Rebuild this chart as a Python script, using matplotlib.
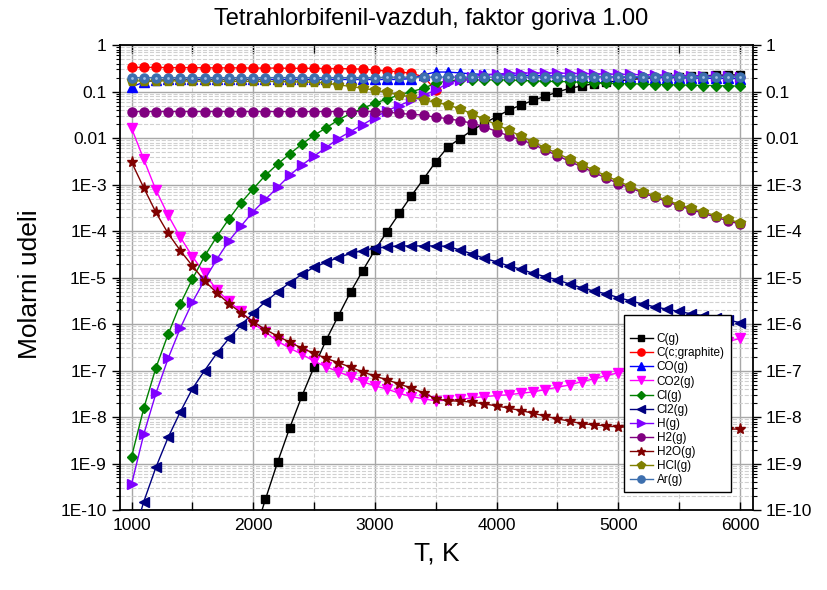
import numpy as np
import matplotlib.pyplot as plt
from matplotlib.ticker import FixedLocator, FuncFormatter, LogLocator, NullFormatter

plt.rcParams['font.family'] = ['Liberation Sans', 'DejaVu Sans']

# temperature, K (every 100 K)
T_K = list(range(1000, 6001, 100))

nan = float('nan')

# log10 of molar fraction (1000 ... 6000 K)
log_Cg = [nan] * 10 + [
    -10.6, -9.77, -8.97, -8.23, -7.55, -6.92, -6.34, -5.82, -5.31, -4.85,
    -4.41, -4.01, -3.62, -3.24, -2.88, -2.51, -2.19, -2.01, -1.83, -1.68,
    -1.54, -1.40, -1.29, -1.19, -1.10, -1.01, -0.93, -0.88, -0.83, -0.80,
    -0.77, -0.74, -0.72, -0.70, -0.69, -0.68, -0.67, -0.66, -0.65, -0.645, -0.64]
log_graphite = [
    -0.48, -0.48, -0.48, -0.485, -0.485, -0.485, -0.49, -0.49, -0.49, -0.49,
    -0.495, -0.495, -0.495, -0.50, -0.50, -0.50, -0.505, -0.505, -0.51, -0.516,
    -0.538, -0.559, -0.574, -0.609, -0.68, -0.97] + [nan] * 25
log_CO = [
    -0.896, -0.80, -0.76, -0.74, -0.74, -0.74, -0.74, -0.74, -0.74, -0.74,
    -0.74, -0.74, -0.74, -0.74, -0.74, -0.74, -0.74, -0.74, -0.74, -0.74,
    -0.74, -0.74, -0.74, -0.72, -0.64, -0.58, -0.58, -0.60, -0.62, -0.63,
    -0.64, -0.645, -0.65, -0.655, -0.66, -0.665, -0.67, -0.675, -0.68, -0.685,
    -0.69, -0.69, -0.695, -0.70, -0.70, -0.705, -0.71, -0.71, -0.715, -0.715, -0.72]
log_CO2 = [
    -1.79, -2.46, -3.12, -3.66, -4.13, -4.55, -4.91, -5.27, -5.51, -5.73,
    -5.99, -6.17, -6.37, -6.52, -6.65, -6.80, -6.92, -7.03, -7.13, -7.24,
    -7.33, -7.40, -7.49, -7.56, -7.61, -7.65, -7.64, -7.62, -7.59, -7.56,
    -7.54, -7.52, -7.49, -7.46, -7.41, -7.36, -7.31, -7.24, -7.18, -7.11,
    -7.05, -6.97, -6.90, -6.82, -6.75, -6.68, -6.60, -6.53, -6.46, -6.38, -6.31]
log_Cl = [
    -8.85, -7.81, -6.94, -6.22, -5.57, -5.03, -4.54, -4.12, -3.74, -3.39,
    -3.09, -2.80, -2.56, -2.34, -2.13, -1.94, -1.78, -1.61, -1.47, -1.36,
    -1.25, -1.16, -1.075, -1.00, -0.93, -0.82, -0.77, -0.75, -0.75, -0.75,
    -0.75, -0.75, -0.76, -0.77, -0.78, -0.78, -0.79, -0.80, -0.81, -0.82,
    -0.83, -0.83, -0.84, -0.85, -0.85, -0.86, -0.86, -0.87, -0.87, -0.88, -0.88]
log_Cl2 = [
    -10.7, -9.82, -9.08, -8.44, -7.89, -7.39, -7.00, -6.63, -6.31, -6.02,
    -5.76, -5.52, -5.31, -5.11, -4.93, -4.78, -4.67, -4.57, -4.48, -4.42,
    -4.37, -4.34, -4.32, -4.32, -4.32, -4.32, -4.33, -4.41, -4.49, -4.59,
    -4.66, -4.75, -4.82, -4.91, -4.98, -5.05, -5.14, -5.22, -5.29, -5.35,
    -5.43, -5.50, -5.57, -5.63, -5.68, -5.73, -5.78, -5.82, -5.86, -5.91, -5.97]
log_H = [
    -9.44, -8.37, -7.49, -6.74, -6.09, -5.53, -5.05, -4.61, -4.21, -3.89,
    -3.58, -3.32, -3.06, -2.80, -2.58, -2.39, -2.20, -2.01, -1.86, -1.71,
    -1.56, -1.41, -1.30, -1.19, -1.08, -0.97, -0.82, -0.75, -0.68, -0.64,
    -0.62, -0.61, -0.60, -0.60, -0.60, -0.60, -0.61, -0.61, -0.62, -0.62,
    -0.63, -0.63, -0.64, -0.64, -0.65, -0.65, -0.66, -0.66, -0.67, -0.67, -0.68]
log_H2 = [
    -1.43, -1.43, -1.43, -1.43, -1.43, -1.43, -1.43, -1.43, -1.43, -1.43,
    -1.43, -1.43, -1.43, -1.43, -1.43, -1.43, -1.43, -1.43, -1.43, -1.43,
    -1.43, -1.44, -1.47, -1.49, -1.505, -1.555, -1.58, -1.63, -1.68, -1.757,
    -1.86, -1.95, -2.04, -2.13, -2.26, -2.38, -2.50, -2.62, -2.74, -2.86,
    -2.98, -3.07, -3.18, -3.27, -3.37, -3.46, -3.54, -3.62, -3.70, -3.78, -3.85]
log_H2O = [
    -2.52, -3.07, -3.60, -4.05, -4.42, -4.75, -5.07, -5.33, -5.56, -5.76,
    -5.95, -6.12, -6.26, -6.39, -6.52, -6.63, -6.74, -6.83, -6.93, -7.03,
    -7.12, -7.20, -7.29, -7.38, -7.48, -7.61, -7.65, -7.66, -7.68, -7.72,
    -7.76, -7.81, -7.86, -7.92, -7.98, -8.04, -8.09, -8.14, -8.17, -8.19,
    -8.21, -8.22, -8.23, -8.24, -8.24, -8.25, -8.25, -8.25, -8.26, -8.26, -8.26]
log_HCl = [
    -0.77, -0.77, -0.77, -0.77, -0.77, -0.775, -0.775, -0.775, -0.78, -0.78,
    -0.78, -0.78, -0.785, -0.79, -0.795, -0.80, -0.82, -0.855, -0.89, -0.93,
    -0.97, -1.02, -1.07, -1.12, -1.18, -1.23, -1.29, -1.37, -1.48, -1.60,
    -1.71, -1.83, -1.96, -2.08, -2.21, -2.33, -2.45, -2.57, -2.69, -2.81,
    -2.93, -3.04, -3.15, -3.24, -3.34, -3.43, -3.51, -3.59, -3.67, -3.75, -3.82]
log_Ar = [
    -0.70, -0.70, -0.70, -0.70, -0.70, -0.70, -0.70, -0.70, -0.70, -0.70,
    -0.70, -0.70, -0.70, -0.70, -0.70, -0.70, -0.70, -0.70, -0.70, -0.70,
    -0.70, -0.69, -0.69, -0.69, -0.69, -0.69, -0.69, -0.69, -0.69, -0.69,
    -0.69, -0.69, -0.69, -0.69, -0.69, -0.69, -0.68, -0.68, -0.68, -0.68,
    -0.68, -0.68, -0.68, -0.68, -0.68, -0.68, -0.68, -0.68, -0.68, -0.68, -0.68]

labels = ['C(g)', 'C(c;graphite)', 'CO(g)', 'CO2(g)', 'Cl(g)', 'Cl2(g)',
          'H(g)', 'H2(g)', 'H2O(g)', 'HCl(g)', 'Ar(g)']
series = [log_Cg, log_graphite, log_CO, log_CO2, log_Cl, log_Cl2,
          log_H, log_H2, log_H2O, log_HCl, log_Ar]
colors = ['#000000', '#FF0000', '#0000FF', '#FF00FF', '#008000', '#000080',
          '#8000FF', '#800080', '#800000', '#808000', '#3D6FAE']
markers = ['s', 'o', '^', 'v', 'D', '<', '>', 'o', '*', 'p', 'o']
msizes = [5.5, 6.5, 6.5, 6.5, 5, 6.5, 6.5, 6.5, 8, 7, 6.5]

fig = plt.figure(figsize=(8.28, 5.9), dpi=100)
ax = fig.add_axes([0.145, 0.1356, 0.764, 0.788])

for i, (lab, vals) in enumerate(zip(labels, series)):
    y = 10.0 ** np.array(vals)
    ax.plot(T_K, y, color=colors[i], marker=markers[i], markersize=msizes[i],
            markeredgecolor=colors[i], linewidth=1, label=lab, zorder=3 + i)
    if lab == 'Ar(g)':
        # little highlight in the middle of the Ar markers
        ax.plot(T_K, y, linestyle='none', marker='o', markersize=2,
                color='#9FC0E6', markeredgewidth=0, zorder=3 + i)

ax.set_yscale('log')
ax.set_xlim(905, 6105)
ax.set_ylim(1e-10, 1)

yt = [10.0 ** k for k in range(-10, 1)]
ylabs = {0: '1', -1: '0.1', -2: '0.01'}


def fmt(v, pos):
    k = int(round(np.log10(v)))
    return ylabs.get(k, f'1E{k}')


ax.yaxis.set_major_locator(FixedLocator(yt))
ax.yaxis.set_major_formatter(FuncFormatter(fmt))
ax.yaxis.set_minor_locator(LogLocator(base=10, subs=np.arange(2, 10), numticks=20))
ax.yaxis.set_minor_formatter(NullFormatter())
ax.set_xticks([1000, 2000, 3000, 4000, 5000, 6000])
ax.set_xticks([1500, 2500, 3500, 4500, 5500], minor=True)

ax.tick_params(axis='y', which='both', direction='out', left=True, right=True,
               labelleft=True, labelright=True, labelsize=12.5)
ax.tick_params(axis='y', which='major', length=6, width=1)
ax.tick_params(axis='y', which='minor', length=3, width=0.8)
ax.tick_params(axis='x', which='both', direction='in', top=True, bottom=True,
               labelsize=12.5, length=6, width=1, pad=6)

ax.grid(True, which='major', color='#A8A8A8', linewidth=1, linestyle='-', zorder=0)
ax.grid(True, which='minor', color='#D0D0D0', linewidth=0.8, linestyle='--', zorder=0)
ax.set_axisbelow(True)
for sp in ax.spines.values():
    sp.set_linewidth(1.3)

leg = ax.legend(loc='upper left', bbox_to_anchor=(0.796, 0.419), borderaxespad=0,
                fontsize=8.5, frameon=True, fancybox=False, edgecolor='black',
                handlelength=2.0, handletextpad=0.3, labelspacing=0.18,
                markerscale=0.8, title=' ', title_fontsize=8, borderpad=0.5)
leg.get_frame().set_linewidth(1)
leg.get_frame().set_alpha(1)
leg.set_zorder(20)

fig.text(431 / 828, 1 - 19 / 590, 'Tetrahlorbifenil-vazduh, faktor goriva 1.00',
         ha='center', va='center', fontsize=17)
fig.text(437 / 828, 1 - 553 / 590, 'T, K', ha='center', va='center', fontsize=19)
fig.text(30 / 828, 1 - 284 / 590, 'Molarni udeli', ha='center', va='center',
         rotation=90, fontsize=19)

fig.savefig('out.png', dpi=100)
